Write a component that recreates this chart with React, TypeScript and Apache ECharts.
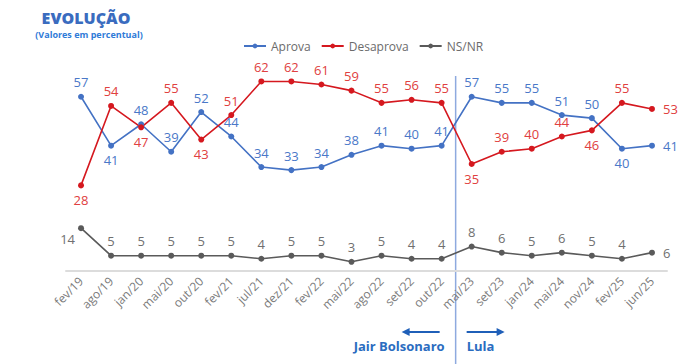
import React, { useEffect, useRef } from "react";
import * as echarts from "echarts";

const categories = [
  "fev/19", "ago/19", "jan/20", "mai/20", "out/20", "fev/21", "jul/21", "dez/21",
  "fev/22", "mai/22", "ago/22", "set/22", "out/22", "mai/23", "set/23", "jan/24",
  "mai/24", "nov/24", "fev/25", "jun/25",
];
const aprova = [57, 41, 48, 39, 52, 44, 34, 33, 34, 38, 41, 40, 41, 57, 55, 55, 51, 50, 40, 41];
const desaprova = [28, 54, 47, 55, 43, 51, 62, 62, 61, 59, 55, 56, 55, 35, 39, 40, 44, 46, 55, 53];
const nsnr = [14, 5, 5, 5, 5, 5, 4, 5, 5, 3, 5, 4, 4, 8, 6, 5, 6, 5, 4, 6];

const aprovaPos = ["top", "bottom", "top", "top", "top", "top", "top", "top", "top", "top",
  "top", "top", "top", "top", "top", "top", "top", "top", "bottom", "right"];
const desaprovaPos = ["bottom", "top", "bottom", "top", "bottom", "top", "top", "top", "top", "top",
  "top", "top", "top", "bottom", "top", "top", "top", "bottom", "top", "right"];
const nsnrPos = ["left", "top", "top", "top", "top", "top", "top", "top", "top", "top",
  "top", "top", "top", "top", "top", "top", "top", "top", "top", "right"];

const BLUE = "#4472c4";
const RED = "#d5181f";
const GRAY = "#5a5a5a";
const FONT = "Open Sans";

function mkData(vals: number[], pos: string[], color: string) {
  return vals.map((v, i) => {
    const p = pos[i];
    const label: any = { position: p, color, fontSize: 13, fontFamily: FONT };
    if (p === "left") { label.offset = [2, 11]; }
    if (p === "right") { label.distance = 8; }
    return { value: v, label };
  });
}

export default function App() {
  const ref = useRef<HTMLDivElement>(null);
  useEffect(() => {
    if (!ref.current) return;
    const chart = echarts.init(ref.current, null, { renderer: "svg" });
    const mkSeries = (name: string, vals: number[], pos: string[], color: string, labelColor: string) => ({
      name,
      type: "line",
      data: mkData(vals, pos, labelColor),
      symbol: "circle",
      symbolSize: 6,
      itemStyle: { color },
      lineStyle: { color, width: 1.6 },
      emphasis: { disabled: true },
      label: {
        show: true,
        color: labelColor,
        fontSize: 13,
        fontFamily: FONT,
      },
    });
    chart.setOption({
      animation: false,
      backgroundColor: "#ffffff",
      legend: {
        left: 238,
        top: 35,
        itemWidth: 22,
        itemHeight: 6,
        itemGap: 10,
        textStyle: { color: "#6b6b6b", fontSize: 12, fontFamily: FONT },
        data: ["Aprova", "Desaprova", "NS/NR"],
      },
      grid: { left: 66, right: 23, top: 57, bottom: 93, containLabel: false },
      xAxis: {
        type: "category",
        data: categories,
        boundaryGap: true,
        axisLine: { lineStyle: { color: "#dcdcdc", width: 2 } },
        axisTick: { show: false },
        axisLabel: {
          rotate: 45,
          color: "#7a7a7a",
          fontSize: 12,
          fontFamily: FONT,
          margin: 8,
          interval: 0,
        },
      },
      yAxis: {
        type: "value",
        min: 0,
        max: 70,
        show: false,
        splitLine: { show: false },
      },
      series: [
        mkSeries("Aprova", aprova, aprovaPos, BLUE, "#4a78c8"),
        mkSeries("Desaprova", desaprova, desaprovaPos, RED, "#e04040"),
        mkSeries("NS/NR", nsnr, nsnrPos, GRAY, "#707070"),
      ],
    });

    const x1 = chart.convertToPixel({ xAxisIndex: 0 }, 12) as number;
    const x2 = chart.convertToPixel({ xAxisIndex: 0 }, 13) as number;
    const dx = (x1 + x2) / 2 - 1;
    const arrowColor = "#1f5fb8";
    chart.setOption({
      graphic: [
        {
          type: "text", x: 86, y: 18,
          style: { text: "EVOLUÇÃO", fill: "#3a6cbf", font: `800 16px "${FONT}"`, align: "center", verticalAlign: "middle" },
        },
        {
          type: "text", x: 89, y: 34,
          style: { text: "(Valores em percentual)", fill: "#2f7bd8", font: `700 9px "${FONT}"`, align: "center", verticalAlign: "middle" },
        },
        {
          type: "line", shape: { x1: dx, y1: 76, x2: dx, y2: 364 },
          style: { stroke: "#8eaadf", lineWidth: 1.5 },
        },
        {
          type: "line", shape: { x1: dx - 16, y1: 332, x2: dx - 50, y2: 332 },
          style: { stroke: arrowColor, lineWidth: 2 },
        },
        {
          type: "polygon", shape: { points: [[dx - 54, 332], [dx - 46, 328], [dx - 46, 336]] },
          style: { fill: arrowColor },
        },
        {
          type: "line", shape: { x1: dx + 11, y1: 332, x2: dx + 45, y2: 332 },
          style: { stroke: arrowColor, lineWidth: 2 },
        },
        {
          type: "polygon", shape: { points: [[dx + 49, 332], [dx + 41, 328], [dx + 41, 336]] },
          style: { fill: arrowColor },
        },
        {
          type: "text", x: dx - 11, y: 346,
          style: { text: "Jair Bolsonaro", fill: "#2a6cc0", font: `700 13px "${FONT}"`, align: "right", verticalAlign: "middle" },
        },
        {
          type: "text", x: dx + 11, y: 346,
          style: { text: "Lula", fill: "#2a6cc0", font: `700 13px "${FONT}"`, align: "left", verticalAlign: "middle" },
        },
      ],
    });
    return () => chart.dispose();
  }, []);
  return <div ref={ref} style={{ width: 690, height: 364, position: "absolute", left: 0, top: 0 }} />;
}
